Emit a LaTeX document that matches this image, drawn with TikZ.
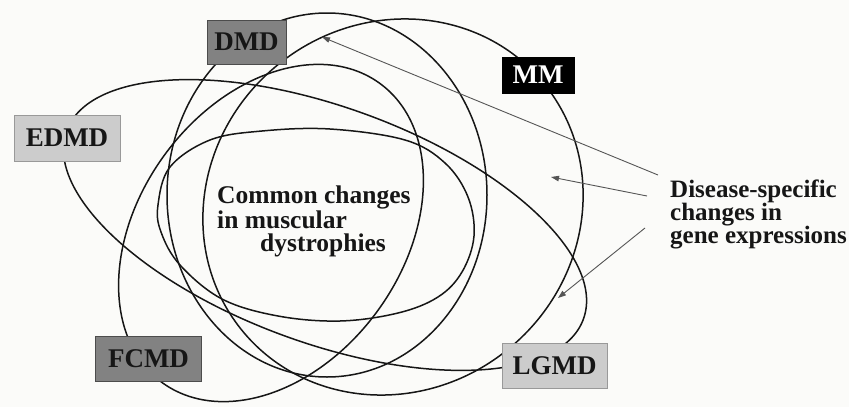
\documentclass[tikz,border=0pt]{standalone}
\usepackage{fontspec}
\setmainfont{Liberation Serif}
\usetikzlibrary{arrows.meta}
\definecolor{bg}{RGB}{251,251,249}
\definecolor{darkbox}{RGB}{130,130,130}
\definecolor{lightbox}{RGB}{204,204,204}
\definecolor{ink}{RGB}{22,22,22}
\definecolor{arrowgray}{RGB}{85,85,85}
\begin{document}
\begin{tikzpicture}[x=1pt,y=-1pt,
  curve/.style={draw=ink, line width=1.5pt},
  labelbox/.style={inner sep=0pt, font=\fontsize{27}{27}\selectfont\bfseries, text=ink},
  darklabel/.style={labelbox, fill=darkbox, draw=black!70, line width=0.6pt},
  lightlabel/.style={labelbox, fill=lightbox, draw=black!40, line width=0.6pt},
  blacklabel/.style={labelbox, fill=black, text=white, draw=black},
  bodytext/.style={font=\fontsize{25.5}{23}\selectfont\bfseries, text=ink, align=left, inner sep=0pt},
  pointer/.style={draw=arrowgray, line width=0.9pt, -{Triangle[length=8pt,width=5.5pt]}}
]
\fill[bg] (0,0) rectangle (849,407);
\useasboundingbox (0,0) rectangle (849,407);

% DMD ellipse
\draw[curve] (327,195) ellipse [x radius=160, y radius=182];
% MM ellipse
\draw[curve, rotate around={40:(393,207)}] (393,207) ellipse [x radius=195, y radius=183];
% FCMD ellipse
\draw[curve, rotate around={54:(271,233)}] (271,233) ellipse [x radius=185, y radius=132];
% EDMD / LGMD ellipse
\draw[curve, rotate around={-20:(325,225)}] (325,225) ellipse [x radius=275, y radius=118];
% inner ellipse
\draw[curve] plot[smooth cycle, tension=0.6] coordinates {(158,205) (170,167) (210,140) (262,131) (330,129) (405,140) (445,163) (468,197) (474,236) (462,272) (438,297) (398,313) (340,321) (278,316) (222,299) (180,265) (161,232)};

% labels
\node[darklabel, minimum width=79pt, minimum height=44pt] (dmd) at (246.5,42) {DMD};
\node[blacklabel, minimum width=72pt, minimum height=36pt] (mm) at (538,75) {MM};
\node[lightlabel, minimum width=106pt, minimum height=46pt] (edmd) at (67,138) {EDMD};
\node[darklabel, minimum width=106pt, minimum height=45pt] (fcmd) at (148.5,358.5) {FCMD};
\node[lightlabel, minimum width=105pt, minimum height=45pt] (lgmd) at (554.5,366) {LGMD};

% texts
\node[bodytext, anchor=north west] (common) at (217,186) {Common changes\\in muscular\\\hspace*{43pt}dystrophies};
\node[bodytext, font=\fontsize{25}{23}\selectfont\bfseries, anchor=north west] (spec) at (670,180) {Disease-specific\\changes in\\gene expressions};

% pointers
\coordinate (a1s) at (658,175); \coordinate (a1e) at (322,37);
\coordinate (a2s) at (647,196); \coordinate (a2e) at (551,177);
\coordinate (a3s) at (645,228); \coordinate (a3e) at (558,298);
\draw[pointer] (a1s) -- (a1e);
\draw[pointer] (a2s) -- (a2e);
\draw[pointer] (a3s) -- (a3e);
\end{tikzpicture}
\end{document}
